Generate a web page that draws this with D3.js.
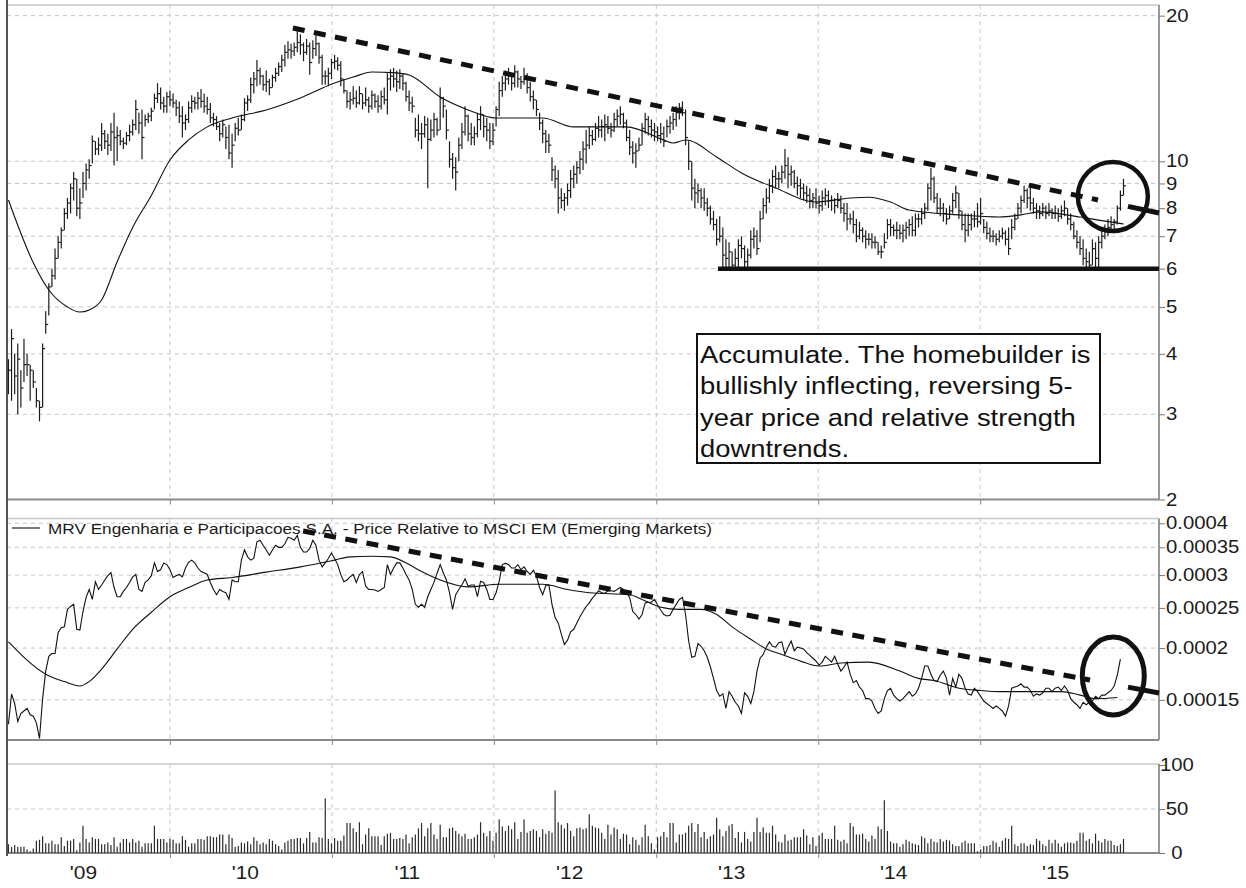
<!DOCTYPE html>
<html>
<head>
<meta charset="utf-8">
<script src="https://cdn.jsdelivr.net/npm/d3@7"></script>
<style>
  body { margin: 0; background: #fff; }
  svg  { display: block; font-family: 'Liberation Sans', Arial, sans-serif; }
</style>
</head>
<body>
<svg id="chart" width="1246" height="888"></svg>
<script>
'use strict';

// ── Data (weekly, first bar = week of 2 Jan 2009) ───────────────────────────
const FIRST_WEEK = new Date(2009, 0, 2);

const priceHigh = [3.9,4.5,4.0,4.2,3.7,4.3,4.0,3.8,3.7,3.4,
  3.2,4.2,4.9,5.6,6.0,6.6,7.0,7.3,8.0,8.4, 9.0,9.5,9.2,8.8,9.5,9.9,10.1,11.3,11.0,11.2,
  12.0,11.6,11.4,12.0,12.6,11.8,11.6,11.2,11.5,11.9, 12.2,13.4,12.6,12.8,12.5,12.6,12.9,13.8,14.5,14.2,
  13.6,13.9,14.0,13.8,13.4,13.3,13.0,12.5,13.3,13.7, 13.6,13.9,14.1,13.8,13.6,13.2,12.6,12.4,12.0,12.2,
  11.8,11.9,11.4,12.0,12.3,12.5,13.5,13.7,14.9,15.3, 16.2,15.6,15.1,15.4,14.8,15.1,15.6,16.0,16.6,17.4,
  17.7,17.5,17.6,18.8,18.3,17.6,17.9,17.6,17.8,18.2, 17.6,16.6,15.4,15.6,16.3,16.6,16.4,16.1,14.8,14.0,
  13.9,14.3,14.0,14.3,13.8,14.2,13.6,14.0,13.8,13.7, 14.0,14.2,15.2,15.5,15.6,15.4,15.5,15.2,14.6,14.0,
  13.6,12.3,12.5,12.0,12.4,12.3,12.2,12.6,12.3,14.2, 13.6,12.8,11.0,10.4,10.2,11.2,12.0,13.0,12.5,12.0,
  11.8,12.6,13.0,12.5,12.3,12.0,12.0,13.0,14.6,15.0, 15.4,15.6,15.2,15.8,15.4,15.0,15.6,15.2,14.6,14.0,
  13.4,12.6,12.2,11.6,11.4,10.2,9.8,9.6,8.8,8.6, 9.0,9.6,9.8,10.0,10.5,11.0,11.6,11.8,11.6,12.0,
  12.4,12.2,12.5,12.4,12.0,12.6,12.8,13.0,12.6,12.2, 11.6,11.0,10.9,11.2,12.0,12.6,12.4,12.2,12.0,11.8,
  12.0,11.8,12.2,12.4,12.6,13.0,13.2,13.3,12.8,11.0, 10.0,9.2,9.0,8.8,8.8,8.4,8.1,7.9,7.6,7.7,
  7.3,6.9,6.8,6.5,6.6,6.9,7.0,6.7,6.6,7.2, 7.3,7.2,7.9,8.4,8.8,9.2,9.6,9.8,9.5,9.8,
  10.6,10.2,9.8,9.6,9.3,9.2,9.0,8.9,8.8,8.6, 8.8,8.5,8.7,8.8,8.7,8.5,8.4,8.6,8.5,8.2,
  8.2,7.8,7.9,7.6,7.5,7.3,7.2,7.1,7.1,7.0, 6.8,6.7,7.1,7.6,7.6,7.4,7.5,7.4,7.4,7.5,
  7.6,7.7,7.8,7.8,8.0,8.2,9.0,9.7,9.3,8.6, 8.4,8.2,8.0,8.1,8.6,8.9,8.6,7.9,7.8,7.8,
  7.8,7.9,8.2,8.4,7.6,7.5,7.3,7.2,7.1,7.2, 7.3,7.2,7.3,7.6,7.8,8.2,8.5,8.9,8.8,8.9,
  8.4,8.2,8.1,8.2,8.1,8.2,8.0,8.1,8.0,8.1, 8.3,8.0,7.8,7.5,7.2,7.0,6.9,6.6,6.5,6.9,
  6.8,7.0,7.2,7.4,7.6,7.7,7.6,8.1,8.7,9.2];

const priceLow = [3.3,3.2,3.3,3.0,3.1,3.5,3.6,3.2,3.4,3.1,
  2.9,3.1,4.4,4.8,5.5,5.7,6.3,6.6,7.2,7.6, 7.8,8.3,7.7,7.6,8.4,8.7,9.2,9.9,10.3,10.3,
  10.5,10.6,10.3,10.5,9.8,10.0,10.8,10.6,10.8,11.0, 11.3,11.6,11.4,10.1,11.8,12.0,12.1,12.8,13.2,12.8,
  12.6,12.6,13.0,12.9,12.4,12.0,11.2,11.6,12.0,12.6, 12.8,12.8,12.9,12.6,12.5,12.0,11.8,11.6,11.0,11.2,
  10.6,10.1,9.7,11.0,11.3,11.6,12.1,12.7,13.2,13.8, 14.3,14.4,14.0,13.9,13.7,14.2,14.6,15.0,15.3,15.7,
  16.3,16.3,16.5,16.8,16.6,16.1,16.6,15.1,16.3,16.5, 15.9,14.4,14.4,14.3,14.8,15.5,15.4,14.3,13.8,12.9,
  12.8,13.1,12.9,13.1,12.8,13.0,12.6,12.8,12.9,12.6, 12.8,13.1,12.5,14.0,14.2,13.9,14.1,14.0,13.3,12.7,
  12.6,11.2,11.0,10.6,11.2,8.8,11.0,11.2,11.3,11.6, 12.3,11.1,9.7,9.2,8.7,10.0,10.6,11.3,11.0,10.8,
  10.8,11.2,11.6,11.2,11.0,10.6,10.8,11.8,12.4,13.6, 14.0,14.4,14.0,14.2,14.2,14.1,14.4,13.8,13.3,12.8,
  12.4,11.6,10.9,10.4,10.4,9.1,8.8,7.8,8.0,7.9, 8.1,8.4,8.8,9.0,9.4,9.6,9.9,10.6,10.8,11.0,
  11.2,11.2,11.0,11.4,11.2,11.5,11.8,11.9,11.7,11.0, 10.3,9.9,9.7,10.5,10.8,11.4,11.3,11.2,11.0,11.0,
  10.9,10.7,11.2,11.4,11.6,11.8,12.2,12.4,10.8,9.6, 8.3,8.0,8.2,8.0,7.9,7.7,7.4,7.2,6.7,6.8,
  6.0,6.0,6.0,5.95,6.0,6.0,6.3,6.0,6.0,6.3, 6.6,6.4,6.8,7.6,7.8,8.2,8.6,8.8,8.8,9.0,
  9.2,8.8,8.9,8.8,8.5,8.4,8.3,8.2,8.0,8.0, 8.0,7.8,7.9,8.1,8.0,7.9,7.8,8.0,7.8,7.5,
  7.2,7.4,7.1,6.8,6.9,6.8,6.6,6.7,6.6,6.6, 6.4,6.3,6.6,6.9,7.0,7.0,6.9,6.9,6.8,6.9,
  7.0,7.0,7.0,7.3,7.4,7.6,7.9,8.3,8.2,7.8, 7.7,7.5,7.4,7.6,7.8,8.0,7.6,7.2,6.8,7.0,
  7.2,7.3,7.3,7.4,7.1,6.9,6.8,6.8,6.7,6.8, 6.9,6.7,6.4,6.9,7.2,7.6,7.8,8.2,8.0,7.9,
  7.8,7.6,7.6,7.7,7.6,7.7,7.6,7.6,7.5,7.6, 7.7,7.4,7.2,6.9,6.6,6.4,6.1,6.0,5.95,6.1,
  6.0,5.95,6.6,6.9,7.0,7.2,7.1,7.4,7.9,8.5];

const priceClose = [3.7,4.3,3.6,3.9,3.4,3.8,3.8,3.7,3.5,3.2,
  3.1,4.1,4.6,5.5,5.8,6.3,6.8,7.2,7.8,8.2, 8.8,9.2,8.0,8.2,9.0,9.6,9.8,11.0,10.6,10.8,
  11.4,11.0,10.8,11.5,11.2,11.3,11.0,10.9,11.3,11.5, 11.9,12.8,12.0,11.2,12.2,12.4,12.7,13.5,13.8,13.2,
  13.0,13.6,13.4,13.2,12.9,12.4,12.0,12.2,12.9,13.3, 13.2,13.5,13.3,13.0,12.8,12.3,12.2,11.8,11.4,11.9,
  11.2,10.4,10.8,11.7,11.6,12.2,13.2,13.4,14.4,14.8, 15.4,15.0,14.4,14.6,14.2,14.9,15.2,15.7,16.2,16.8,
  17.0,16.9,17.2,17.6,17.4,16.8,17.3,16.0,17.1,17.5, 16.4,15.0,15.0,15.2,16.0,16.1,15.8,14.8,14.0,13.3,
  13.4,13.5,13.2,13.8,13.2,13.4,13.0,13.7,13.3,13.0, 13.6,13.4,14.8,15.0,14.8,14.6,15.0,14.5,13.6,13.2,
  13.0,11.6,11.4,11.4,11.9,11.1,11.6,12.2,11.6,13.5, 13.0,11.6,10.1,9.7,9.5,10.8,11.5,12.4,11.4,11.2,
  11.4,12.2,12.5,11.8,11.6,11.0,11.6,12.8,14.0,14.5, 14.8,15.2,14.5,15.3,14.8,14.6,15.0,14.2,13.6,13.4,
  12.8,12.0,11.4,11.0,10.8,9.6,9.2,8.4,8.3,8.4, 8.7,9.2,9.4,9.7,10.1,10.6,10.8,11.3,11.1,11.7,
  11.6,11.8,11.9,11.7,11.6,12.2,12.4,12.5,12.0,11.2, 10.7,10.4,10.5,10.8,11.7,12.2,11.8,11.6,11.5,11.3,
  11.4,11.0,11.8,12.0,12.2,12.6,12.9,12.6,11.2,10.0, 8.8,8.6,8.7,8.4,8.2,8.0,7.6,7.4,6.9,7.0,
  6.4,6.3,6.5,6.1,6.3,6.7,6.6,6.2,6.4,6.9, 7.0,6.6,7.6,8.1,8.4,8.9,9.3,9.2,9.2,9.5,
  9.8,9.4,9.5,9.0,8.9,8.8,8.6,8.5,8.3,8.4, 8.2,8.1,8.4,8.5,8.3,8.3,8.1,8.3,8.0,7.8,
  7.6,7.6,7.4,7.0,7.2,7.0,6.9,6.9,6.8,6.8, 6.5,6.5,6.8,7.4,7.3,7.2,7.2,7.1,7.2,7.3,
  7.4,7.2,7.6,7.6,7.8,8.0,8.8,9.2,8.4,8.0, 8.0,7.8,7.6,7.9,8.3,8.6,7.9,7.4,7.2,7.4,
  7.6,7.6,7.5,7.8,7.3,7.1,7.0,7.0,6.9,7.0, 7.1,6.9,6.6,7.3,7.6,8.0,8.3,8.7,8.4,8.2,
  8.0,7.9,7.8,8.0,7.8,7.9,7.8,7.8,7.7,7.9, 8.0,7.6,7.4,7.0,6.8,6.6,6.3,6.2,6.1,6.6,
  6.3,6.8,7.0,7.2,7.3,7.4,7.5,8.0,8.5,8.9];

// 40-week moving average of price, read at sparse points (week index, value)
const priceMaWeeks  = [0,2,8,13,19,23,26,30,35,40,46,52,58,64,72,83,94,105,111,117,124,129,139,148,157,172,182,199,211,214,
  218,228,236,247,260,271,277,284,290,306,319,326,332,345,351,359];
const priceMaValues = [8.32,7.67,6.17,5.42,5.0,4.88,4.93,5.17,6.2,7.3,8.5,10.06,11.07,11.78,12.29,12.77,13.52,14.51,14.93,15.3,
  15.25,15.08,13.58,12.77,12.29,12.29,11.78,11.78,11.07,10.91,11.07,10.21,9.46,8.81,8.24,8.4,8.43,8.24,7.93,7.75,
  7.67,7.75,7.86,7.67,7.56,7.42];

// Price relative to MSCI EM, weekly
const relStrength = [0.000131,0.000155,0.000147,0.000133,0.000139,0.000141,0.000143,0.000138,0.000137,0.000132,
  0.000121,0.000151,0.000176,0.000191,0.000194,0.000194,0.000218,0.000224,0.000225,0.000248,
  0.000252,0.000255,0.000222,0.000221,0.000245,0.000265,0.000277,0.000262,0.000289,0.000277,
  0.000284,0.000292,0.000299,0.000304,0.000280,0.000266,0.000266,0.000274,0.000280,0.000288,
  0.000297,0.000301,0.000277,0.000274,0.000288,0.000292,0.000299,0.000321,0.000306,0.000309,
  0.000321,0.000318,0.000309,0.000296,0.000299,0.000301,0.000297,0.000312,0.000322,0.000326,
  0.000321,0.000312,0.000306,0.000304,0.000301,0.000288,0.000277,0.000269,0.000277,0.000274,
  0.000272,0.000262,0.000292,0.000289,0.000289,0.000326,0.000345,0.000332,0.000326,0.000329,
  0.000361,0.000364,0.000354,0.000345,0.000335,0.000345,0.000354,0.000350,0.000350,0.000357,
  0.000370,0.000368,0.000364,0.000374,0.000350,0.000341,0.000341,0.000348,0.000364,0.000354,
  0.000326,0.000314,0.000321,0.000329,0.000339,0.000329,0.000318,0.000301,0.000289,0.000292,
  0.000297,0.000301,0.000288,0.000301,0.000306,0.000282,0.000277,0.000277,0.000276,0.000274,
  0.000277,0.000280,0.000318,0.000301,0.000312,0.000321,0.000321,0.000312,0.000301,0.000292,
  0.000277,0.000255,0.000251,0.000255,0.000251,0.000266,0.000277,0.000288,0.000303,0.000318,
  0.000304,0.000292,0.000272,0.000248,0.000269,0.000277,0.000284,0.000294,0.000282,0.000284,
  0.000284,0.000266,0.000290,0.000288,0.000277,0.000262,0.000262,0.000272,0.000290,0.000318,
  0.000320,0.000318,0.000312,0.000312,0.000318,0.000309,0.000314,0.000306,0.000301,0.000308,
  0.000298,0.000280,0.000269,0.000283,0.000284,0.000255,0.000237,0.000230,0.000216,0.000204,
  0.000209,0.000219,0.000222,0.000230,0.000238,0.000245,0.000252,0.000257,0.000264,0.000269,
  0.000275,0.000272,0.000271,0.000275,0.000275,0.000274,0.000277,0.000280,0.000277,0.000272,
  0.000265,0.000245,0.000241,0.000235,0.000241,0.000257,0.000258,0.000258,0.000262,0.000254,
  0.000247,0.000241,0.000239,0.000240,0.000248,0.000255,0.000262,0.000265,0.000241,0.000208,
  0.000190,0.000191,0.000205,0.000202,0.000197,0.000190,0.000180,0.000169,0.000158,0.000153,
  0.000155,0.000143,0.000157,0.000153,0.000148,0.000145,0.000139,0.000156,0.000153,0.000147,
  0.000157,0.000176,0.000189,0.000193,0.000201,0.000207,0.000202,0.000201,0.000206,0.000207,
  0.000193,0.000201,0.000208,0.000197,0.000201,0.000200,0.000199,0.000195,0.000192,0.000189,
  0.000186,0.000182,0.000185,0.000191,0.000188,0.000185,0.000191,0.000183,0.000176,0.000180,
  0.000185,0.000173,0.000165,0.000167,0.000161,0.000158,0.000151,0.000151,0.000149,0.000143,
  0.000139,0.000141,0.000151,0.000158,0.000160,0.000154,0.000151,0.000149,0.000151,0.000154,
  0.000157,0.000153,0.000155,0.000160,0.000169,0.000181,0.000181,0.000173,0.000167,0.000166,
  0.000172,0.000176,0.000169,0.000154,0.000169,0.000161,0.000173,0.000169,0.000160,0.000155,
  0.000154,0.000160,0.000157,0.000153,0.000149,0.000147,0.000145,0.000143,0.000145,0.000143,
  0.000141,0.000137,0.000145,0.000160,0.000161,0.000162,0.000164,0.000161,0.000161,0.000158,
  0.000153,0.000155,0.000154,0.000156,0.000160,0.000160,0.000157,0.000160,0.000161,0.000158,
  0.000162,0.000158,0.000151,0.000148,0.000146,0.000143,0.000148,0.000146,0.000148,0.000149,
  0.000153,0.000151,0.000154,0.000154,0.000156,0.000158,0.000162,0.000172,0.000188];

// Moving average of the relative line (week index, value)
const rsMaWeeks  = [0,12,18,23,26,30,35,40,46,52,58,64,72,83,94,105,110,117,123,129,133,139,148,158,172,180,187,200,204,210,
  216,223,228,233,239,244,249,255,261,268,277,287,293,298,306,313,319,326,339,345,350,357];
const rsMaValues = [0.000207,0.000173,0.000166,0.000162,0.000166,0.000178,0.000199,0.000222,0.000244,0.000266,
  0.000280,0.000292,0.000296,0.000305,0.000314,0.000326,0.000332,0.000333,0.000332,0.000318,
  0.000306,0.000292,0.000281,0.000285,0.000285,0.000277,0.000272,0.000269,0.000262,0.000251,
  0.000248,0.000248,0.000241,0.000225,0.000210,0.000199,0.000193,0.000186,0.000181,0.000184,
  0.000185,0.000176,0.000169,0.000167,0.000160,0.000158,0.000157,0.000157,0.000157,0.000154,
  0.000151,0.000152];

// Weekly volume (millions)
const volume = [10,7,9,7,7,7,4,2,5,14, 15,19,11,11,14,10,10,18,8,14, 14,16,3,12,31,16,12,18,16,16,
  10,10,12,9,18,7,12,16,16,12, 16,12,14,7,11,11,11,31,16,16, 16,12,16,15,11,11,19,15,7,11,
  11,16,16,15,19,19,18,18,21,21, 10,21,17,7,8,12,11,13,10,18, 14,10,12,10,16,14,10,8,4,12,
  14,16,16,17,17,11,17,24,12,12, 18,17,62,16,11,17,14,14,20,34, 34,28,24,35,10,21,28,19,19,19,
  9,19,22,
  23,16,16,17,16,21,11,18,21,28, 34,19,28,34,21,16,32,18,18,28, 29,25,22,19,22,16,16,18,21,35,
  23,19,25,14,23,38,30,25,31,27, 35,16,24,38,23,25,27,25,18,27, 22,25,23,71,35,32,28,34,25,19,
  28,29,27,28,44,31,29,28,23,16, 32,21,29,27,16,22,21,10,18,15, 9,18,32,19,11,4,18,19,24,18,
  34,34,12,21,21,23,31,34,24,33, 18,24,16,19,21,40,27,19,25,31, 33,17,24,12,24,16,13,24,40,24,
  29,23,23,31,21,13,
  12,21,14,15,18,18,18,27,20,10, 18,8,20,23,16,16,16,31,15,13, 15,11,34,30,21,21,22,16,13,20,
  16,30,27,60,25,13,11,11,7,10, 15,13,11,10,9,19,17,11,16,13, 12,16,13,15,14,10,8,8,12,14,
  11,11,11,2,4,8,8,9,14,12, 7,14,17,16,31,10,8,11,11,8, 10,9,16,14,10,8,15,11,15,11,
  7,11,12,12,11,14,23,23,14,16, 11,22,14,12,16,14,14,9,8,10, 16];

// Axes
const yearStarts  = ['2010-01-01','2011-01-01','2012-01-01','2013-01-01','2014-01-01','2015-01-01'];
const yearLabels  = ["'09","'10","'11","'12","'13","'14","'15"];
const yearLabelAt = ['2009-06-20','2010-06-20','2011-06-20','2012-06-20','2013-06-20','2014-06-20','2015-06-20'];
const priceTicks  = [20,10,9,8,7,6,5,4,3,2];
const rsTicks     = [0.0004,0.00035,0.0003,0.00025,0.0002,0.00015];
const volTicks    = [0,50,100];

const legendText = 'MRV Engenharia e Participacoes S.A. - Price Relative to MSCI EM (Emerging Markets)';
const noteLines  = ['Accumulate. The homebuilder is', 'bullishly inflecting, reversing 5-',
                    'year price and relative strength', 'downtrends.'];

// ── Scales ──────────────────────────────────────────────────────────────────
const svg   = d3.select('#chart');
const parse = d3.timeParse('%Y-%m-%d');
const LEFT = 7, RIGHT = 1159;
const STRETCH = 1.16;   // the source picture is a little wider than tall
const weekDate = i => d3.timeDay.offset(FIRST_WEEK, 7 * i);

const x      = d3.scaleTime().domain([new Date(2009, 0, 1), new Date(2016, 1, 8)]).range([8, RIGHT]);
const yPrice = d3.scaleLog().domain([2, 21.04]).range([499.5, 5]);
const yRS    = d3.scaleLog().domain([0.00012, 0.0004108]).range([740, 518.5]);
const yVol   = d3.scaleLinear().domain([0, 100]).range([853, 765]);

// widen text horizontally to match the source
function stretch(sel, k) {
  sel.each(function () {
    const w = this.getComputedTextLength();
    d3.select(this).attr('textLength', w * k).attr('lengthAdjust', 'spacingAndGlyphs');
  });
}

const panels = [
  { y: yPrice, top: 5,     bottom: 499.5, ticks: priceTicks, fmt: d3.format(''), centred: false },
  { y: yRS,    top: 518.5, bottom: 740,   ticks: rsTicks,    fmt: d => String(d), centred: false },
  { y: yVol,   top: 764,   bottom: 853,   ticks: volTicks,   fmt: d3.format(''), centred: true }
];

const GRID = '#c4c4c4';

// ── Frames, grids, axes ─────────────────────────────────────────────────────
panels.forEach(p => {
  const g = svg.append('g');

  // horizontal grid
  g.selectAll('line.hg').data(p.ticks.filter(t => p.y(t) > p.top + 2 && p.y(t) < p.bottom - 2))
    .join('line')
    .attr('x1', LEFT).attr('x2', RIGHT)
    .attr('y1', d => p.y(d)).attr('y2', d => p.y(d))
    .attr('stroke', GRID).attr('stroke-dasharray', '4,4');

  // vertical grid at year boundaries
  g.selectAll('line.vg').data(yearStarts.map(parse))
    .join('line')
    .attr('x1', d => x(d)).attr('x2', d => x(d))
    .attr('y1', p.top).attr('y2', p.bottom)
    .attr('stroke', GRID).attr('stroke-dasharray', '4,4');

  // top border
  g.append('line')
    .attr('x1', LEFT).attr('x2', RIGHT).attr('y1', p.top).attr('y2', p.top)
    .attr('stroke', '#c8c8c8').attr('stroke-width', 1.5);

  // bottom axis with year ticks
  g.append('g')
    .attr('transform', `translate(0,${p.bottom})`)
    .call(d3.axisBottom(x).tickValues(yearStarts.map(parse)).tickSize(5).tickSizeOuter(0).tickFormat(''))
    .call(ax => ax.select('.domain').attr('d', `M${LEFT},0H${RIGHT}`).attr('stroke', '#8a8a8a').attr('stroke-width', 2))
    .call(ax => ax.selectAll('.tick line').attr('stroke', '#8a8a8a'));

  // right value axis
  const ax = g.append('g')
    .attr('transform', `translate(${RIGHT},0)`)
    .call(d3.axisRight(p.y).tickValues(p.ticks).tickSize(6).tickSizeOuter(0).tickFormat(p.fmt));
  ax.select('.domain').attr('d', `M0,${p.top}V${p.bottom}`).attr('stroke', '#777').attr('stroke-width', 1.5);
  ax.selectAll('.tick line').attr('stroke', '#777');
  const labels = ax.selectAll('.tick text')
    .attr('fill', '#1a1a1a')
    .attr('font-size', 17.5).attr('font-family', "'Liberation Sans', Arial, sans-serif");
  if (p.centred) labels.attr('x', 18).attr('text-anchor', 'middle');
  else labels.attr('x', 7);
  stretch(labels, STRETCH);
});

// left frame line
svg.append('line')
  .attr('x1', LEFT).attr('x2', LEFT).attr('y1', 0).attr('y2', 856)
  .attr('stroke', '#555').attr('stroke-width', 2);

// year labels
const yl = svg.append('g').selectAll('text').data(yearLabels)
  .join('text')
  .attr('x', (d, i) => x(parse(yearLabelAt[i])))
  .attr('y', 879)
  .attr('text-anchor', 'middle')
  .attr('font-size', 18)
  .attr('fill', '#1a1a1a')
  .text(d => d);
stretch(yl, STRETCH);

// ── Price bars ──────────────────────────────────────────────────────────────
const bars = priceHigh.map((h, i) => ({ d: weekDate(i), h, l: priceLow[i], c: priceClose[i] }));
const pg = svg.append('g').attr('stroke', '#1c1c1c').attr('stroke-width', 1.2);
pg.selectAll('line.hl').data(bars).join('line')
  .attr('x1', d => x(d.d)).attr('x2', d => x(d.d))
  .attr('y1', d => yPrice(d.h)).attr('y2', d => yPrice(d.l));
pg.selectAll('line.cl').data(bars).join('line')
  .attr('x1', d => x(d.d)).attr('x2', d => x(d.d) + 2.5)
  .attr('y1', d => yPrice(d.c)).attr('y2', d => yPrice(d.c));

// price moving average
const maPts = priceMaWeeks.map((w, i) => [weekDate(w), priceMaValues[i]]);
svg.append('path')
  .attr('d', d3.line().x(d => x(d[0])).y(d => yPrice(d[1])).curve(d3.curveMonotoneX)(maPts))
  .attr('fill', 'none').attr('stroke', '#111').attr('stroke-width', 1.1);

// ── Relative strength ───────────────────────────────────────────────────────
svg.append('path')
  .attr('d', d3.line().x((d, i) => x(weekDate(i))).y(d => yRS(d))(relStrength))
  .attr('fill', 'none').attr('stroke', '#111').attr('stroke-width', 1.1);

const rsMaPts = rsMaWeeks.map((w, i) => [weekDate(w), rsMaValues[i]]);
svg.append('path')
  .attr('d', d3.line().x(d => x(d[0])).y(d => yRS(d[1])).curve(d3.curveMonotoneX)(rsMaPts))
  .attr('fill', 'none').attr('stroke', '#111').attr('stroke-width', 1.1);

// legend
svg.append('line').attr('x1', 12).attr('x2', 40).attr('y1', 528).attr('y2', 528)
  .attr('stroke', '#222').attr('stroke-width', 1.2);
svg.append('text')
  .attr('x', 48).attr('y', 534)
  .attr('font-size', 15.5).attr('fill', '#1a1a1a')
  .attr('textLength', 664).attr('lengthAdjust', 'spacingAndGlyphs')
  .text(legendText);

// ── Volume ──────────────────────────────────────────────────────────────────
svg.append('g').selectAll('line').data(volume).join('line')
  .attr('x1', (d, i) => x(weekDate(i))).attr('x2', (d, i) => x(weekDate(i)))
  .attr('y1', yVol(0)).attr('y2', d => yVol(d))
  .attr('stroke', '#2a2a2a').attr('stroke-width', 1.2);

// ── Annotations ─────────────────────────────────────────────────────────────
const INK = '#111';

function trendLine(y, p0, p1, dashEndX, solidStartX) {
  const a = [x(p0[0]), y(p0[1])], b = [x(p1[0]), y(p1[1])];
  const at = px => [px, a[1] + (px - a[0]) / (b[0] - a[0]) * (b[1] - a[1])];
  svg.append('path')
    .attr('d', d3.line()([a, at(dashEndX)]))
    .attr('stroke', INK).attr('stroke-width', 5).attr('stroke-dasharray', '12,9.5').attr('fill', 'none');
  svg.append('path')
    .attr('d', d3.line()([at(solidStartX), b]))
    .attr('stroke', INK).attr('stroke-width', 5).attr('fill', 'none');
}

trendLine(yPrice, [new Date(2010, 9, 5), 18.86], [new Date(2016, 1, 8), 7.82], 1098, 1128);
trendLine(yRS, [new Date(2010, 9, 28), 0.0003832], [new Date(2016, 1, 8), 0.0001558], 1090, 1128);

// support at 6
svg.append('line')
  .attr('x1', x(new Date(2013, 4, 20))).attr('x2', RIGHT)
  .attr('y1', yPrice(6)).attr('y2', yPrice(6))
  .attr('stroke', INK).attr('stroke-width', 4.5);

// circles round the breakout
svg.append('ellipse')
  .attr('cx', x(new Date(2015, 9, 27))).attr('cy', yPrice(8.46))
  .attr('rx', 35).attr('ry', 34.5)
  .attr('fill', 'none').attr('stroke', INK).attr('stroke-width', 4.5);
svg.append('ellipse')
  .attr('cx', x(new Date(2015, 9, 28))).attr('cy', yRS(0.0001713))
  .attr('rx', 31).attr('ry', 39)
  .attr('fill', 'none').attr('stroke', INK).attr('stroke-width', 5);

// note box
const note = svg.append('g').attr('transform', 'translate(697,334)');
note.append('rect').attr('width', 403).attr('height', 129)
  .attr('fill', '#fff').attr('stroke', INK).attr('stroke-width', 2);
const nt = note.selectAll('text').data(noteLines).join('text')
  .attr('x', 3).attr('y', (d, i) => 29 + i * 31.3)
  .attr('font-size', 23).attr('fill', '#111')
  .text(d => d);
stretch(nt, 1.19);
</script>
</body>
</html>
